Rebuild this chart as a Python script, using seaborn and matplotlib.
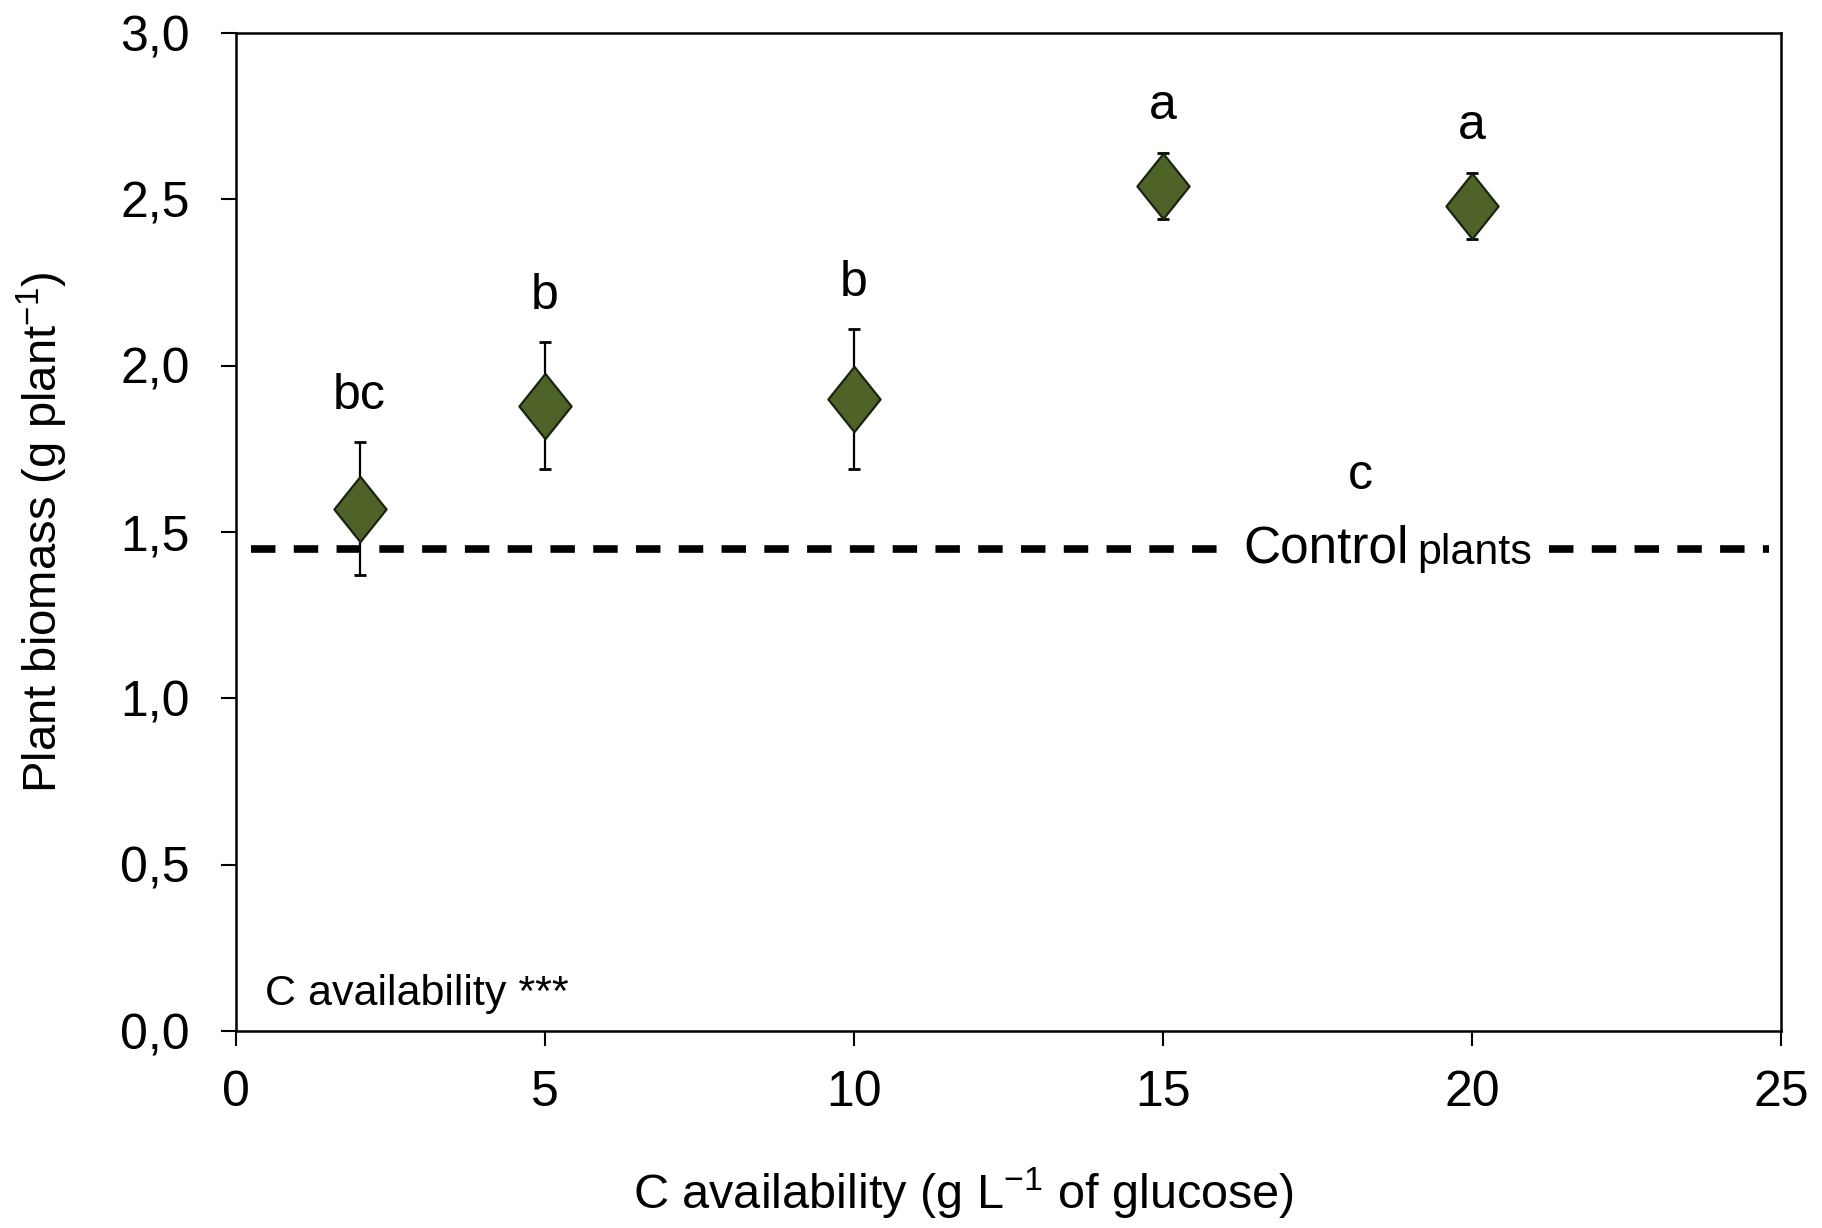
import seaborn as sns
import matplotlib.pyplot as plt
import numpy as np
from matplotlib.ticker import FuncFormatter

# data
glucose = [2, 5, 10, 15, 20]
biomass = [1.57, 1.88, 1.90, 2.54, 2.48]
biomass_se = [0.20, 0.19, 0.21, 0.10, 0.10]
letters = ["bc", "b", "b", "a", "a"]
control_biomass = 1.45
control_letter = "c"

sns.set_theme(style="ticks")
plt.rcParams['font.family'] = ['Liberation Sans', 'DejaVu Sans']
plt.rcParams['mathtext.fontset'] = 'custom'
plt.rcParams['mathtext.rm'] = 'Liberation Sans'
plt.rcParams['mathtext.it'] = 'Liberation Sans'
for key in ['text.color', 'axes.labelcolor', 'xtick.color', 'ytick.color']:
    plt.rcParams[key] = 'black'

fig = plt.figure(figsize=(18.22, 12.28), dpi=100)
ax = fig.add_axes([0.1295, 0.1604, 0.848, 0.8126])

# control line with a gap for its label
ax.plot([0.25, 16.05], [control_biomass] * 2, color="black", lw=5.5, dashes=(3.2, 2.4), zorder=1)
ax.plot([21.25, 24.8], [control_biomass] * 2, color="black", lw=5.5, dashes=(3.2, 2.4), zorder=1)
t = ax.text(16.3, control_biomass, "Control", fontsize=37, va="center", ha="left")
ax.annotate("plants", xy=(1, 0), xycoords=t, xytext=(6, 0), textcoords="offset points",
            fontsize=31, va="bottom", ha="left")
ax.text(18.2, control_biomass + 0.22, control_letter, fontsize=36, ha="center", va="center")

ax.errorbar(glucose, biomass, yerr=biomass_se, fmt="none", ecolor="black",
            elinewidth=1.6, capsize=4.5, capthick=2, zorder=2)

diamond = [(0, 1), (0.8, 0), (0, -1), (-0.8, 0), (0, 1)]
sns.scatterplot(x=glucose, y=biomass, marker=diamond, s=47 ** 2, color="#4f6228",
                edgecolor="#1a2410", linewidth=1.6, zorder=3, ax=ax)

for x, m, se, lab in zip(glucose, biomass, biomass_se, letters):
    ax.text(x, m + se + 0.14, lab, fontsize=36, ha="center", va="center")

ax.text(0.47, 0.11, "C availability ***", fontsize=31, ha="left", va="center")

ax.set_xlim(0, 25)
ax.set_ylim(0, 3.0)
ax.set_xticks(np.arange(0, 26, 5))
ax.set_yticks(np.arange(0, 3.01, 0.5))
ax.yaxis.set_major_formatter(FuncFormatter(lambda v, p: f"{v:.1f}".replace(".", ",")))
ax.tick_params(axis="both", labelsize=36, length=11, width=1.5, color="black", direction="out")
ax.tick_params(axis="x", pad=17)
ax.tick_params(axis="y", pad=22)
for sp in ax.spines.values():
    sp.set_visible(True)
    sp.set_color("black")
    sp.set_linewidth(1.8)

ax.set_xlabel("C availability (g L$^{\\mathregular{-1}}$ of glucose)", fontsize=35, labelpad=36, x=0.471)
ax.set_ylabel("Plant biomass (g plant$^{\\mathregular{-1}}$)", fontsize=34, labelpad=36)

fig.savefig("out.png", dpi=100, facecolor="white")
